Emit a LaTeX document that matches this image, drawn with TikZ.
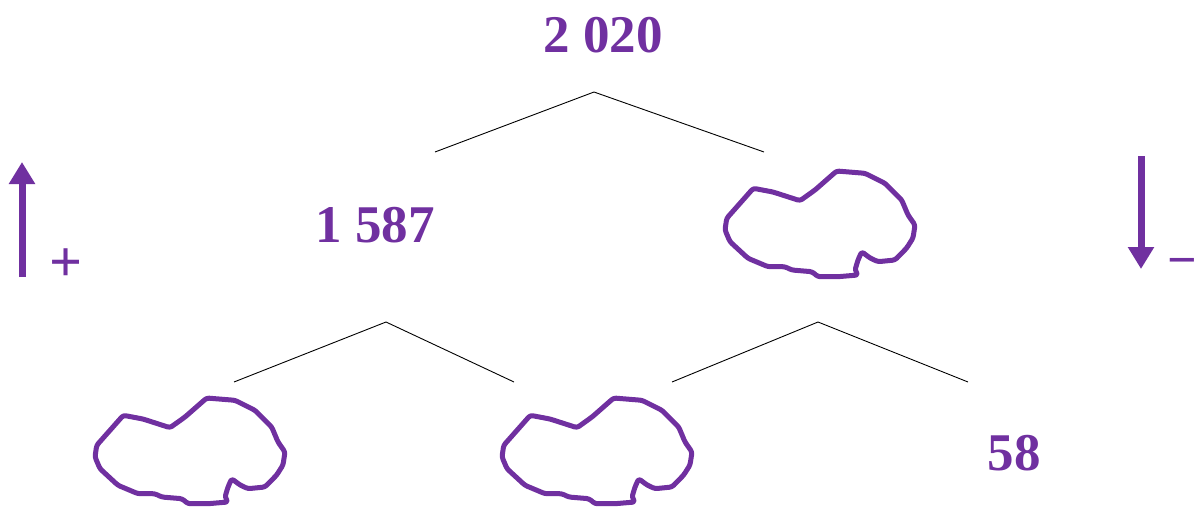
\documentclass[tikz,border=0pt]{standalone}
\usepackage{fontspec}
\setmainfont{Liberation Serif}
\usetikzlibrary{arrows.meta}
\definecolor{vio}{HTML}{7030A0}
\tikzset{
  num/.style={text=vio,font=\fontsize{53}{60}\selectfont\bfseries,inner sep=0pt},
  sign/.style={text=vio,font=\fontsize{58}{64}\selectfont\bfseries,inner sep=0pt},
  branch/.style={line width=0.9pt,black},
  bigarrow/.style={vio,line width=7pt,-{Triangle[width=25pt,length=22pt]}},
  cloud/.pic={
    \draw[vio,line width=5pt,line join=round,rounded corners=2.5pt]
      (753.3,188.3)--(773,192)--(800,200.7)--(815,190)--(836.7,171)--(865,173.3)
      --(885,183.3)--(901.7,200)--(908,215)--(915,225)--(913,238)--(906.7,248)
      --(895,260)--(878,261.7)--(870,258)--(861.7,251.7)--(858,260)--(855,270)
      --(858,275)--(838,276.7)--(818,276.7)--(812,271.7)--(791.7,270)--(785,266.7)
      --(768,266.7)--(748,258.3)--(730,241.7)--(725,230)--(726.7,218.3)--(740,203.3)
      --cycle;
  }
}
\begin{document}
\begin{tikzpicture}[x=1pt,y=-1pt]
  \useasboundingbox (0,0) rectangle (1198,506);
  % numbers
  \node[num] (n2020) at (603,35) {2 020};
  \node[num] (n1587) at (375,225) {1 587};
  \node[num] (n58) at (1014,453) {58};
  % clouds
  \pic (cA) at (0,0) {cloud};
  \pic (cB) at (-630,227) {cloud};
  \pic (cC) at (-223,227) {cloud};
  % branch coordinates
  \coordinate (t0) at (594,92);
  \coordinate (t1) at (435,152);
  \coordinate (t2) at (764,152);
  \coordinate (l0) at (386,322);
  \coordinate (l1) at (234,382);
  \coordinate (l2) at (514,382);
  \coordinate (r0) at (818,322);
  \coordinate (r1) at (672,382);
  \coordinate (r2) at (968,382);
  \draw[branch] (t1) -- (t0) -- (t2);
  \draw[branch] (l1) -- (l0) -- (l2);
  \draw[branch] (r1) -- (r0) -- (r2);
  % side arrows
  \coordinate (ua) at (22,277);
  \coordinate (ub) at (22,162);
  \coordinate (da) at (1141,156);
  \coordinate (db) at (1141,269);
  \draw[bigarrow] (ua) -- (ub);
  \draw[bigarrow] (da) -- (db);
  \node[sign] (plus) at (66,265) {+};
  \node[sign,font=\fontsize{52}{60}\selectfont\bfseries] (minus) at (1182.5,268) {−};
\end{tikzpicture}
\end{document}
